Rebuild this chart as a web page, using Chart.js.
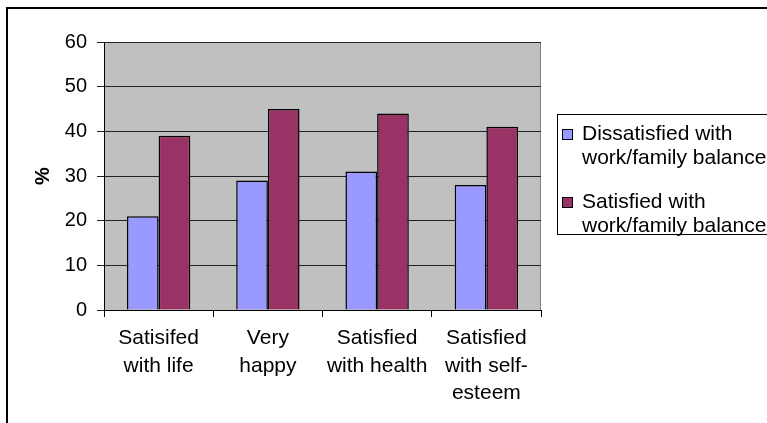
<!DOCTYPE html>
<html>
<head>
<meta charset="utf-8">
<script src="https://cdn.jsdelivr.net/npm/chart.js@4/dist/chart.umd.min.js"></script>
<style>
  html, body { margin: 0; padding: 0; background: #fff; }
  canvas { display: block; }
</style>
</head>
<body>
<canvas id="chart" width="767" height="423"></canvas>
<script>
const categories = [
  ['Satisifed', 'with life'],
  ['Very', 'happy'],
  ['Satisfied', 'with health'],
  ['Satisfied', 'with self-', 'esteem']
];
const dissatisfied = [21, 29, 31, 28];
const satisfied = [39, 45, 44, 41];
const seriesLabels = [
  ['Dissatisfied with', 'work/family balance'],
  ['Satisfied with', 'work/family balance']
];
const yTicks = [0, 10, 20, 30, 40, 50, 60];

const FONT = '"Liberation Sans", Arial, sans-serif';

// grey plot area + outer frame
const backdrop = {
  id: 'backdrop',
  beforeDraw(chart) {
    const { ctx, chartArea: a } = chart;
    ctx.save();
    ctx.fillStyle = '#c0c0c0';
    ctx.fillRect(a.left, a.top, a.right - a.left, a.bottom - a.top);
    ctx.strokeStyle = '#808080';
    ctx.lineWidth = 1;
    ctx.strokeRect(a.left + 0.5, a.top + 0.5, a.right - a.left - 1, a.bottom - a.top);
    ctx.strokeStyle = '#000';
    ctx.lineWidth = 2;
    ctx.strokeRect(7, 8, 800, 500);
    ctx.restore();
  }
};

// boxed legend on the right, two-line labels
const boxLegend = {
  id: 'boxLegend',
  afterDraw(chart) {
    const { ctx } = chart;
    ctx.save();
    ctx.strokeStyle = '#000';
    ctx.lineWidth = 1;
    ctx.strokeRect(557.5, 114.5, 300, 120);
    ctx.font = '21px ' + FONT;
    ctx.textBaseline = 'middle';
    const starts = [134, 202];
    chart.data.datasets.forEach((ds, i) => {
      const y = starts[i];
      ctx.fillStyle = ds.backgroundColor;
      ctx.fillRect(562, y - 5, 11, 11);
      ctx.strokeStyle = '#000';
      ctx.strokeRect(562.5, y - 4.5, 10, 10);
      ctx.fillStyle = '#000';
      seriesLabels[i].forEach((line, j) => ctx.fillText(line, 582, y + j * 24));
    });
    ctx.restore();
  }
};

new Chart(document.getElementById('chart'), {
  type: 'bar',
  data: {
    labels: categories,
    datasets: [
      { label: seriesLabels[0].join(' '), data: dissatisfied, backgroundColor: '#9999ff' },
      { label: seriesLabels[1].join(' '), data: satisfied, backgroundColor: '#993366' }
    ]
  },
  options: {
    responsive: false,
    devicePixelRatio: 1,
    animation: false,
    layout: { padding: { left: 27, right: 226, top: 42, bottom: 0 } },
    datasets: {
      bar: {
        borderColor: '#000',
        borderWidth: 1.5,
        categoryPercentage: 0.58,
        barPercentage: 1
      }
    },
    plugins: {
      legend: { display: false },
      tooltip: { enabled: false }
    },
    scales: {
      x: {
        afterFit: s => { s.height = 113; },
        grid: {
          offset: true,
          drawOnChartArea: false,
          drawTicks: true,
          tickLength: 7,
          color: '#000'
        },
        border: { color: '#000', width: 1 },
        ticks: {
          color: '#000',
          font: { family: FONT, size: 21, lineHeight: 1.3 },
          padding: 8,
          maxRotation: 0,
          autoSkip: false
        }
      },
      y: {
        min: 0,
        max: 60,
        afterFit: s => { s.width = 77; },
        afterBuildTicks: s => { s.ticks = yTicks.map(v => ({ value: v })); },
        grid: { color: '#222', tickLength: 7, lineWidth: 1 },
        border: { color: '#000', width: 1 },
        ticks: {
          color: '#000',
          font: { family: FONT, size: 20 },
          padding: 10
        },
        title: {
          display: true,
          text: '%',
          color: '#000',
          font: { family: FONT, size: 20, weight: 'bold' }
        }
      }
    }
  },
  plugins: [backdrop, boxLegend]
});
</script>
</body>
</html>
